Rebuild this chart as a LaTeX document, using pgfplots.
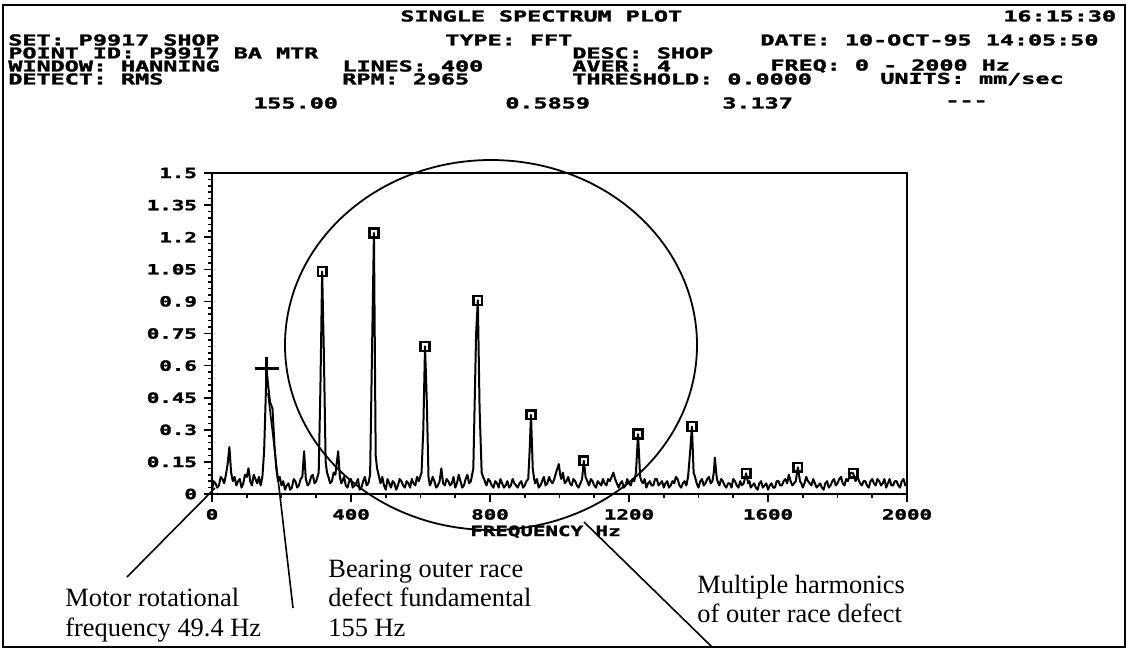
\documentclass[border=0pt]{standalone}
\usepackage{pgfplots}
\pgfplotsset{compat=1.18}
\usepackage{fontspec}
\setmainfont{Liberation Serif}
\newfontfamily\blk[FakeBold=1.6]{DejaVu Sans Mono Bold}
\usepackage{graphicx}
\newcommand{\hdr}[1]{\scalebox{1}[0.64]{\fontsize{11.7}{12}\selectfont\blk #1}}
\newcommand{\tkl}[1]{\scalebox{1}[0.68]{\fontsize{10.4}{11}\selectfont\blk #1}}
\newcommand{\ann}{\fontsize{13.2}{15}\selectfont}
\begin{document}
\begin{tikzpicture}
\begin{scope}[x=0.5pt,y=-0.5pt]
\useasboundingbox (0,0) rectangle (1128,650);
\end{scope}
\begin{axis}[
  at={(106pt,-247pt)}, anchor=south west,
  scale only axis, width=347.5pt, height=160.5pt,
  xmin=0, xmax=2000, ymin=0, ymax=1.5,
  xtick={0,400,800,1200,1600,2000},
  ytick={0,0.15,0.3,0.45,0.6,0.75,0.9,1.05,1.2,1.35,1.5},
  minor y tick num=4, minor x tick num=3,
  tick align=outside, xtick pos=left, ytick pos=left,
  major tick length=4pt, minor tick length=2pt,
  axis line style={line width=1pt},
  every tick/.style={line width=0.8pt, black},
  /pgf/number format/assume math mode=true,
  /pgf/number format/1000 sep={},
  xticklabel={\tkl{\pgfmathprintnumber{\tick}}},
  yticklabel={\tkl{\pgfmathprintnumber{\tick}}},
  xlabel={\tkl{FREQUENCY Hz}},
  xlabel style={xshift=-7pt, yshift=4pt},
  clip=false,
]
\addplot[black, line width=1pt, line join=round] coordinates {
(0,0.02)(5,0.06)(10,0.05)(15,0.03)(20,0.04)(25,0.08)(30,0.07)(35,0.05)(40,0.09)(45,0.14)
(50,0.22)(55,0.10)(60,0.06)(65,0.08)(70,0.04)(75,0.06)(80,0.07)(85,0.03)(90,0.05)(95,0.09)
(100,0.08)(105,0.12)(110,0.06)(115,0.04)(120,0.09)(125,0.07)(130,0.05)(135,0.08)(140,0.04)(145,0.08)
(150,0.20)(157,0.586)(162,0.50)(167,0.43)(174,0.40)(180,0.22)(185,0.12)(190,0.06)(195,0.08)(200,0.04)
(205,0.06)(210,0.02)(215,0.04)(220,0.05)(225,0.02)(230,0.03)(235,0.07)(240,0.06)(245,0.03)(250,0.04)
(255,0.07)(260,0.08)(265,0.20)(270,0.07)(275,0.04)(280,0.05)(285,0.08)(290,0.09)(295,0.05)(300,0.06)
(307,0.10)(312,0.50)(317,1.04)(322,0.65)(327,0.15)(331,0.10)(335,0.08)(340,0.05)(345,0.06)(350,0.10)
(355,0.09)(363,0.20)(368,0.08)(372,0.05)(375,0.06)(380,0.08)(385,0.04)(390,0.03)(395,0.06)(400,0.07)
(405,0.03)(410,0.04)(415,0.05)(420,0.07)(425,0.02)(430,0.03)(435,0.06)(440,0.08)(445,0.04)(450,0.05)
(455,0.09)(461,0.72)(466,1.22)(471,0.18)(475,0.12)(478,0.10)(482,0.07)(485,0.05)(490,0.08)(495,0.04)
(500,0.02)(505,0.07)(510,0.05)(515,0.03)(520,0.06)(525,0.05)(530,0.02)(535,0.04)(540,0.07)(545,0.06)
(550,0.04)(555,0.03)(560,0.06)(565,0.05)(570,0.03)(575,0.07)(580,0.05)(585,0.04)(590,0.08)(595,0.06)
(603,0.10)(608,0.30)(613,0.69)(618,0.44)(623,0.08)(627,0.04)(630,0.05)(635,0.08)(640,0.06)(645,0.03)
(650,0.04)(655,0.06)(660,0.12)(665,0.05)(670,0.04)(675,0.07)(680,0.06)(685,0.04)(690,0.05)(695,0.08)
(700,0.03)(705,0.05)(710,0.09)(715,0.06)(720,0.03)(725,0.04)(730,0.07)(735,0.09)(740,0.05)(745,0.06)
(752,0.12)(760,0.75)(765,0.905)(770,0.40)(776,0.10)(780,0.08)(783,0.07)(787,0.05)(790,0.04)(795,0.07)
(800,0.06)(805,0.04)(810,0.03)(815,0.06)(820,0.05)(825,0.03)(830,0.07)(835,0.05)(840,0.03)(845,0.04)
(850,0.06)(855,0.03)(860,0.04)(865,0.07)(870,0.05)(875,0.04)(880,0.03)(885,0.05)(890,0.06)(895,0.03)
(900,0.04)(905,0.06)(910,0.07)(914,0.20)(918,0.37)(923,0.12)(927,0.07)(930,0.05)(935,0.07)(940,0.03)
(945,0.04)(950,0.06)(955,0.08)(960,0.04)(965,0.05)(970,0.08)(975,0.06)(980,0.05)(985,0.07)(990,0.10)
(994,0.12)(998,0.14)(1002,0.09)(1005,0.07)(1010,0.10)(1015,0.05)(1020,0.06)(1025,0.08)(1030,0.05)(1035,0.04)
(1040,0.07)(1045,0.06)(1050,0.04)(1055,0.03)(1060,0.05)(1065,0.07)(1070,0.155)(1075,0.08)(1080,0.06)(1085,0.04)
(1090,0.07)(1095,0.06)(1100,0.04)(1105,0.03)(1110,0.06)(1115,0.05)(1120,0.04)(1125,0.07)(1130,0.05)(1135,0.04)
(1140,0.07)(1145,0.06)(1150,0.08)(1155,0.10)(1160,0.07)(1165,0.05)(1170,0.03)(1175,0.05)(1180,0.06)(1185,0.03)
(1190,0.04)(1195,0.07)(1200,0.05)(1205,0.04)(1210,0.07)(1215,0.06)(1220,0.10)(1226,0.28)(1232,0.08)(1236,0.06)
(1240,0.05)(1245,0.07)(1250,0.03)(1255,0.05)(1260,0.06)(1265,0.04)(1270,0.04)(1275,0.07)(1280,0.07)(1285,0.04)
(1290,0.05)(1295,0.06)(1300,0.03)(1305,0.05)(1310,0.06)(1315,0.03)(1320,0.04)(1325,0.06)(1330,0.05)(1335,0.08)
(1340,0.07)(1345,0.04)(1350,0.03)(1355,0.05)(1360,0.06)(1365,0.04)(1370,0.08)(1376,0.20)(1381,0.315)(1386,0.10)
(1390,0.08)(1393,0.06)(1397,0.04)(1400,0.03)(1405,0.06)(1410,0.07)(1415,0.04)(1420,0.05)(1425,0.07)(1430,0.08)
(1435,0.05)(1440,0.06)(1444,0.10)(1447,0.17)(1451,0.10)(1453,0.07)(1457,0.05)(1460,0.04)(1465,0.07)(1470,0.06)
(1475,0.04)(1480,0.03)(1485,0.05)(1490,0.05)(1495,0.03)(1500,0.07)(1505,0.06)(1510,0.04)(1515,0.03)(1520,0.06)
(1525,0.04)(1530,0.05)(1537,0.097)(1543,0.05)(1547,0.06)(1550,0.03)(1555,0.04)(1560,0.05)(1565,0.03)(1570,0.02)
(1575,0.05)(1580,0.06)(1585,0.03)(1590,0.04)(1595,0.05)(1600,0.02)(1605,0.04)(1610,0.05)(1615,0.03)(1620,0.03)
(1625,0.06)(1630,0.06)(1635,0.04)(1640,0.04)(1645,0.06)(1650,0.07)(1655,0.05)(1660,0.09)(1665,0.06)(1670,0.04)
(1675,0.05)(1680,0.06)(1686,0.125)(1692,0.06)(1696,0.05)(1700,0.03)(1705,0.05)(1710,0.08)(1715,0.06)(1720,0.05)
(1725,0.04)(1730,0.07)(1735,0.05)(1740,0.03)(1745,0.04)(1750,0.05)(1755,0.03)(1760,0.02)(1765,0.05)(1770,0.06)
(1775,0.03)(1780,0.04)(1785,0.06)(1790,0.07)(1795,0.04)(1800,0.05)(1805,0.07)(1810,0.08)(1815,0.05)(1820,0.04)
(1825,0.07)(1830,0.06)(1838,0.10)(1845,0.097)(1852,0.06)(1856,0.08)(1860,0.07)(1865,0.05)(1870,0.04)(1875,0.06)
(1880,0.06)(1885,0.04)(1890,0.03)(1895,0.06)(1900,0.07)(1905,0.05)(1910,0.04)(1915,0.07)(1920,0.06)(1925,0.04)
(1930,0.05)(1935,0.07)(1940,0.03)(1945,0.05)(1950,0.07)(1955,0.04)(1960,0.04)(1965,0.06)(1970,0.06)(1975,0.04)
(1980,0.03)(1985,0.06)(1990,0.07)(1995,0.04)(2000,0.05)
};
\addplot[only marks, mark=square, mark size=2.2pt, line width=1.2pt, black] coordinates {
(317,1.04)(466,1.22)(613,0.69)(765,0.905)(918,0.37)(1070,0.155)(1226,0.28)(1381,0.315)(1537,0.097)(1686,0.125)(1845,0.097)
};
\addplot[only marks, mark=+, mark size=6pt, line width=1.2pt, black] coordinates {(157,0.586)};
\end{axis}
\begin{scope}[x=0.5pt,y=-0.5pt]
\draw[line width=1pt] (3,5) rectangle (1125,647);
\draw[line width=0.9pt] (491,345) ellipse [x radius=206, y radius=185];
\draw[line width=0.8pt] (127,577) -- (215,488);
\draw[line width=0.8pt] (268,393) -- (293,608);
\draw[line width=0.8pt] (584,522) -- (712,647);
% header
\node[anchor=west,inner sep=0] at (400,16) {\hdr{SINGLE SPECTRUM PLOT}};
\node[anchor=west,inner sep=0] at (1003,16) {\hdr{16:15:30}};
\node[anchor=west,inner sep=0] at (8,40) {\hdr{SET: P9917 SHOP}};
\node[anchor=west,inner sep=0] at (445,40) {\hdr{TYPE: FFT}};
\node[anchor=west,inner sep=0] at (760,40) {\hdr{DATE: 10-OCT-95 14:05:50}};
\node[anchor=west,inner sep=0] at (8,53) {\hdr{POINT ID: P9917 BA MTR}};
\node[anchor=west,inner sep=0] at (572,53) {\hdr{DESC: SHOP}};
\node[anchor=west,inner sep=0] at (8,66) {\hdr{WINDOW: HANNING}};
\node[anchor=west,inner sep=0] at (342,66) {\hdr{LINES: 400}};
\node[anchor=west,inner sep=0] at (572,66) {\hdr{AVER: 4}};
\node[anchor=west,inner sep=0] at (770,66) {\hdr{FREQ: 0 - 2000 Hz}};
\node[anchor=west,inner sep=0] at (8,79) {\hdr{DETECT: RMS}};
\node[anchor=west,inner sep=0] at (342,79) {\hdr{RPM: 2965}};
\node[anchor=west,inner sep=0] at (572,79) {\hdr{THRESHOLD: 0.0000}};
\node[anchor=west,inner sep=0] at (880,79) {\hdr{UNITS: mm/sec}};
\node[anchor=west,inner sep=0] at (253,103) {\hdr{155.00}};
\node[anchor=west,inner sep=0] at (505,103) {\hdr{0.5859}};
\node[anchor=west,inner sep=0] at (722,103) {\hdr{3.137}};
\node[anchor=west,inner sep=0] at (945,103) {\hdr{---}};
% annotations
\node[anchor=base west,inner sep=0] at (65,606) {\ann Motor rotational};
\node[anchor=base west,inner sep=0] at (65,636) {\ann frequency 49.4 Hz};
\node[anchor=base west,inner sep=0] at (328,577) {\ann Bearing outer race};
\node[anchor=base west,inner sep=0] at (328,606) {\ann defect fundamental};
\node[anchor=base west,inner sep=0] at (328,636) {\ann 155 Hz};
\node[anchor=base west,inner sep=0] at (697,593) {\ann Multiple harmonics};
\node[anchor=base west,inner sep=0] at (697,622) {\ann of outer race defect};
\end{scope}
\end{tikzpicture}
\end{document}
